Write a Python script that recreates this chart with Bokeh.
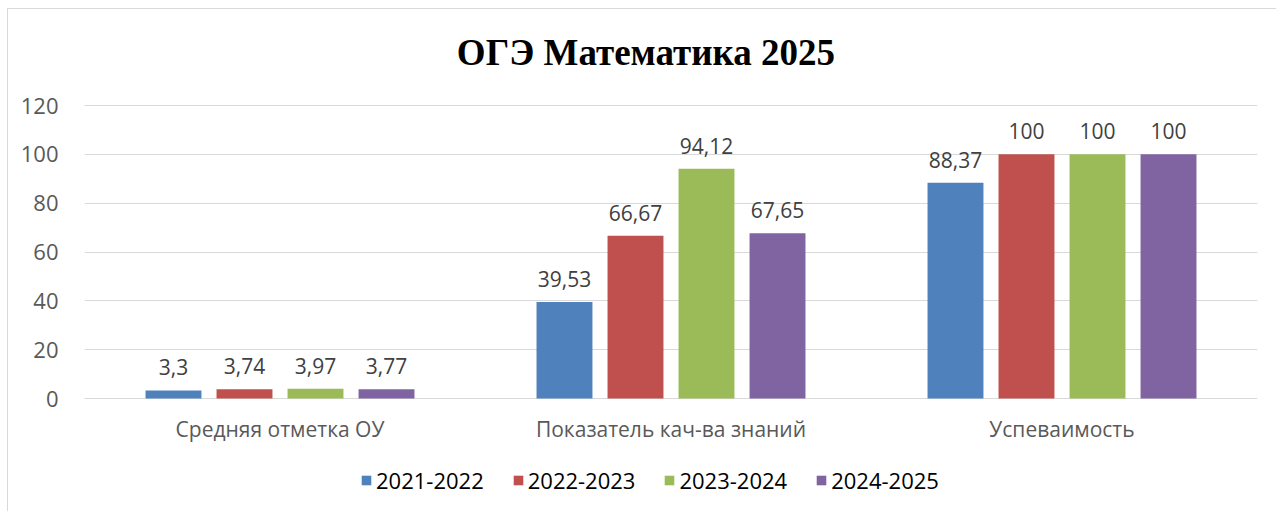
from bokeh.plotting import figure
from bokeh.models import ColumnDataSource, Range1d, FactorRange, Legend, LegendItem, Label, LabelSet
from bokeh.transform import dodge
from bokeh.core.properties import value
from bokeh.embed import file_html
from bokeh.resources import INLINE

title_text = "ОГЭ Математика 2025"
categories = ["Средняя отметка ОУ", "Показатель кач-ва знаний", "Успеваимость"]
series_names = ["2021-2022", "2022-2023", "2023-2024", "2024-2025"]
s2021 = [3.3, 39.53, 88.37]
s2022 = [3.74, 66.67, 100]
s2023 = [3.97, 94.12, 100]
s2024 = [3.77, 67.65, 100]
y_ticks = [0, 20, 40, 60, 80, 100, 120]

series_values = [s2021, s2022, s2023, s2024]
colors = ["#4F81BD", "#C0504D", "#9BBB59", "#8064A2"]
offsets = [-0.2724, -0.0908, 0.0908, 0.2724]
bar_w = 0.143

def fmt(v):
    s = ("%g" % v)
    return s.replace(".", ",")

# frame covers the full canvas height; value axis drawn only for 0..120
p = figure(width=1269, height=503, x_range=FactorRange(*categories), y_range=Range1d(-46.69, 159.32),
           output_backend="svg", toolbar_location=None, x_axis_location=None,
           min_border_left=76, min_border_right=20, min_border_top=0, min_border_bottom=0,
           styles={"border-left": "1px solid #d9d9d9", "border-top": "1px solid #d9d9d9"})
p.margin = (8, 0, 0, 7)
p.outline_line_color = None
p.background_fill_color = "white"
p.border_fill_color = "white"

TF = "Open Sans"
renderers = []
for name, vals, col, off in zip(series_names, series_values, colors, offsets):
    src = ColumnDataSource(dict(cat=categories, val=vals, lab=[fmt(v) for v in vals]))
    r = p.vbar(x=dodge("cat", off, range=p.x_range), top="val", width=bar_w, source=src,
               fill_color=col, line_color=None)
    renderers.append((name, r))
    labels = LabelSet(x=dodge("cat", off, range=p.x_range), y="val", text="lab", source=src,
                      text_align="center", text_baseline="bottom", y_offset=15,
                      text_font=value(TF), text_font_size="21px", text_color="#404040")
    p.add_layout(labels)

# category labels under the baseline
cat_src = ColumnDataSource(dict(cat=categories))
p.add_layout(LabelSet(x="cat", y=0, text="cat", source=cat_src, text_align="center",
                      text_baseline="middle", y_offset=-30, text_font=value(TF),
                      text_font_size="21px", text_color="#595959"))

p.add_layout(Label(x=1.436, y=141.7, text=title_text, text_align="center",
                   text_baseline="alphabetic", text_font="Liberation Serif",
                   text_font_size="37px", text_font_style="bold", text_color="#000000"))

p.xgrid.grid_line_color = None
p.ygrid.grid_line_color = "#d9d9d9"
p.ygrid.grid_line_width = 1
p.ygrid.ticker = y_ticks
p.yaxis.ticker = y_ticks
p.yaxis.axis_line_color = None
p.yaxis.major_tick_line_color = None
p.yaxis.minor_tick_line_color = None
p.yaxis.major_label_text_font = TF
p.yaxis.major_label_text_font_size = "22px"
p.yaxis.major_label_text_color = "#595959"
p.yaxis.major_label_standoff = 20

legend = Legend(items=[LegendItem(label=n, renderers=[r]) for n, r in renderers],
                orientation="horizontal", location=(276, 17),
                glyph_width=12, glyph_height=12, label_standoff=4, spacing=28,
                padding=0, margin=0, border_line_color=None, background_fill_alpha=0,
                label_text_font=TF, label_text_font_size="22px", label_text_color="#000000")
p.add_layout(legend, "center")

open("out.html", "w").write(file_html(p, INLINE))
